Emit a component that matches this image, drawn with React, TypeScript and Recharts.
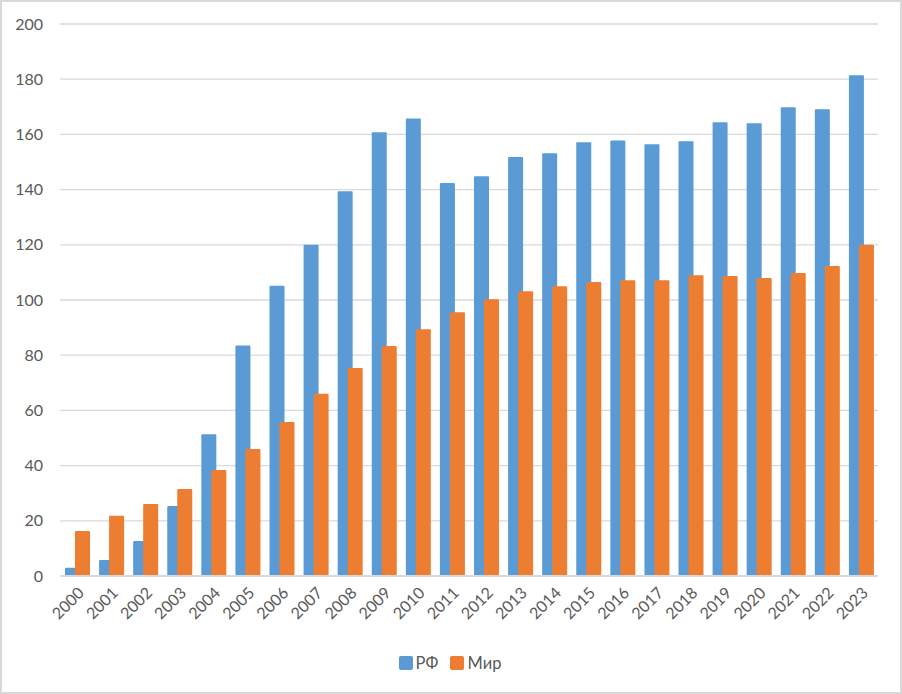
import React from "react";
import {
  Bar,
  BarChart,
  CartesianGrid,
  Legend,
  XAxis,
  YAxis,
} from "recharts";

const years = [
  "2000", "2001", "2002", "2003", "2004", "2005", "2006", "2007",
  "2008", "2009", "2010", "2011", "2012", "2013", "2014", "2015",
  "2016", "2017", "2018", "2019", "2020", "2021", "2022", "2023",
];

const rf = [
  3, 5.8, 12.7, 25.4, 51.4, 83.5, 105.2, 120, 139.4, 160.8, 165.8, 142.4,
  144.8, 151.8, 153.2, 157.2, 157.8, 156.4, 157.5, 164.4, 164, 169.8, 169.1,
  181.4,
];

const world = [
  16.3, 21.8, 26.1, 31.5, 38.4, 46, 55.8, 66, 75.4, 83.3, 89.4, 95.6, 100.3,
  103.2, 105, 106.5, 107.2, 107.2, 109, 108.7, 108, 109.8, 112.3, 120,
];

const yTicks = [0, 20, 40, 60, 80, 100, 120, 140, 160, 180, 200];

const BLUE = "#5B9BD5";
const ORANGE = "#ED7D31";
const TEXT = "#595959";
const GRID = "#D9D9D9";
const FONT = "Lato, 'Open Sans', sans-serif";

const data = years.map((year, i) => ({ year, rf: rf[i], world: world[i] }));

function LegendContent() {
  const items = [
    { name: "РФ", color: BLUE },
    { name: "Мир", color: ORANGE },
  ];
  return (
    <div
      style={{
        display: "flex",
        justifyContent: "center",
        alignItems: "center",
        paddingLeft: 10,
        paddingTop: 7,
        fontFamily: FONT,
        fontSize: 16.5,
        color: TEXT,
      }}
    >
      {items.map((it) => (
        <div
          key={it.name}
          style={{ display: "flex", alignItems: "center", marginRight: 12 }}
        >
          <span
            style={{
              width: 14,
              height: 14,
              background: it.color,
              borderRadius: 2,
              marginRight: 3,
              display: "inline-block",
            }}
          />
          <span>{it.name}</span>
        </div>
      ))}
    </div>
  );
}

export default function App() {
  return (
    <div
      style={{
        position: "fixed",
        left: 0,
        top: 0,
        width: 902,
        height: 694,
        background: "#fff",
      }}
    >
      <BarChart
        width={902}
        height={694}
        data={data}
        margin={{ top: 24, right: 24, left: 0, bottom: 0 }}
        barSize={15}
        barGap={-5}
      >
        <CartesianGrid vertical={false} stroke={GRID} strokeWidth={1.3} />
        <XAxis
          dataKey="year"
          height={70}
          interval={0}
          angle={-45}
          textAnchor="end"
          tickLine={false}
          tickSize={0}
          tickMargin={10}
          axisLine={{ stroke: GRID, strokeWidth: 2 }}
          tick={{ fill: TEXT, fontSize: 16, fontFamily: FONT }}
        />
        <YAxis
          width={60}
          domain={[0, 200]}
          ticks={yTicks}
          interval={0}
          axisLine={false}
          tickLine={false}
          tickSize={0}
          tickMargin={17}
          tick={{ fill: TEXT, fontSize: 16, fontFamily: FONT }}
        />
        <Legend
          verticalAlign="bottom"
          height={48}
          wrapperStyle={{ left: 0, width: 902 }}
          content={() => <LegendContent />}
        />
        <Bar dataKey="rf" name="РФ" fill={BLUE} radius={[1, 1, 0, 0]} isAnimationActive={false} />
        <Bar dataKey="world" name="Мир" fill={ORANGE} radius={[1, 1, 0, 0]} isAnimationActive={false} />
      </BarChart>
      <div
        style={{
          position: "absolute",
          left: 0,
          top: 0,
          width: 902,
          height: 694,
          boxSizing: "border-box",
          border: `2px solid ${GRID}`,
          pointerEvents: "none",
        }}
      />
    </div>
  );
}
